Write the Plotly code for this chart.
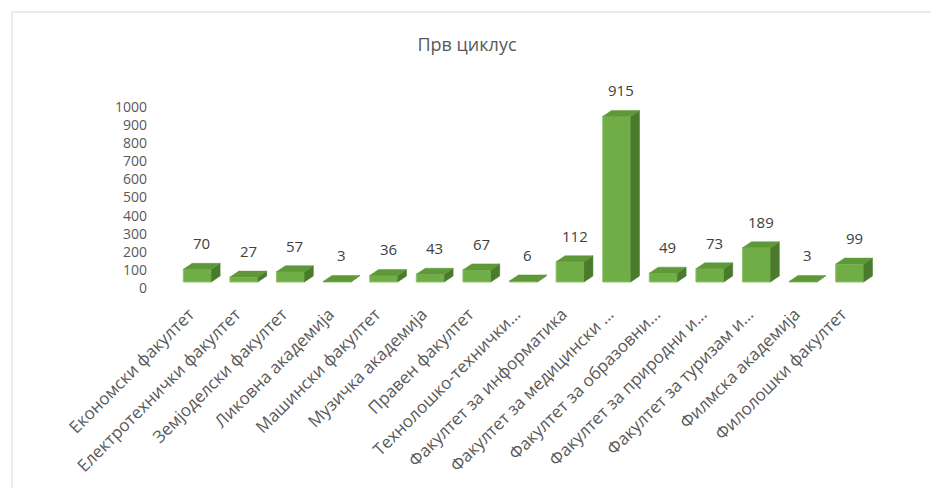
import plotly.graph_objects as go

categories = [
    "Економски факултет", "Електротехнички факултет", "Земјоделски факултет",
    "Ликовна академија", "Машински факултет", "Музичка академија",
    "Правен факултет", "Технолошко-технички...", "Факултет за информатика",
    "Факултет за медицински ...", "Факултет за образовни...",
    "Факултет за природни и...", "Факултет за туризам и...",
    "Филмска академија", "Филолошки факултет",
]
values = [70, 27, 57, 3, 36, 43, 67, 6, 112, 915, 49, 73, 189, 3, 99]
y_ticks = [0, 100, 200, 300, 400, 500, 600, 700, 800, 900, 1000]

# page body has an 8px margin, so the figure is drawn 8px in from the corner
W, H = 931, 480
L, R, T, B = 166, 66, 72, 188
plot_w = W - L - R
plot_h = H - T - B
y_range = [-99.4, 1116.0]
units_per_px = (y_range[1] - y_range[0]) / plot_h

bw = 0.6          # front face width (category units)
dx = 0.19         # depth shift in category units
dy = 6 * units_per_px  # depth shift in value units

FRONT = "#70AD47"
SIDE = "#4A7A2C"
TOP = "#5E9838"

fig = go.Figure()
for i, v in enumerate(values):
    xl, xr = i - bw / 2, i + bw / 2
    # side face
    fig.add_trace(go.Scatter(
        x=[xr, xr + dx, xr + dx, xr, xr], y=[0, dy, v + dy, v, 0],
        fill="toself", fillcolor=SIDE, mode="lines",
        line=dict(color=SIDE, width=0.5), hoverinfo="skip", showlegend=False))
    # top face
    fig.add_trace(go.Scatter(
        x=[xl, xr, xr + dx, xl + dx, xl], y=[v, v, v + dy, v + dy, v],
        fill="toself", fillcolor=TOP, mode="lines",
        line=dict(color=TOP, width=0.5), hoverinfo="skip", showlegend=False))

# front faces
fig.add_trace(go.Bar(
    x=list(range(len(categories))), y=values, width=bw,
    marker=dict(color=FRONT, line=dict(color="#8CC56A", width=1)),
    hoverinfo="y", showlegend=False))

for i, v in enumerate(values):
    fig.add_annotation(
        x=i + dx / 2, y=v + dy, text=str(v), showarrow=False,
        yanchor="bottom", yshift=8,
        font=dict(size=15, color="#404040", family="Open Sans"))

fig.update_layout(
    width=W, height=H,
    margin=dict(l=L, r=R, t=T, b=B),
    paper_bgcolor="white", plot_bgcolor="white",
    title=dict(text="Прв циклус", x=459 / W, xanchor="center",
               y=1 - 37 / H, yanchor="middle",
               font=dict(size=18, color="#595959", family="Open Sans")),
    font=dict(family="Open Sans", color="#595959"),
    bargap=0.4,
)
fig.update_xaxes(
    range=[-0.5, len(categories) - 0.5], automargin=False,
    tickmode="array", tickvals=list(range(len(categories))), ticktext=categories,
    tickangle=-45, showgrid=False, zeroline=False, showline=False,
    ticklabelshift=-8, ticklabelstandoff=0,
    tickfont=dict(size=17, color="#595959"),
)
fig.update_yaxes(
    range=y_range, tickmode="array", tickvals=y_ticks, automargin=False,
    showgrid=False, zeroline=False, showline=False,
    ticklabelstandoff=26, ticklabelshift=6,
    tickfont=dict(size=14, color="#595959"),
)

# chart border (light gray)
fig.add_shape(type="rect", xref="paper", yref="paper",
              x0=(4 - L) / plot_w, x1=(W + 5 - L) / plot_w,
              y0=(T + plot_h - (H + 5)) / plot_h, y1=(T + plot_h - 4) / plot_h,
              line=dict(color="#D9D9D9", width=1), fillcolor="rgba(0,0,0,0)",
              layer="below")

fig.write_html("out.html")
